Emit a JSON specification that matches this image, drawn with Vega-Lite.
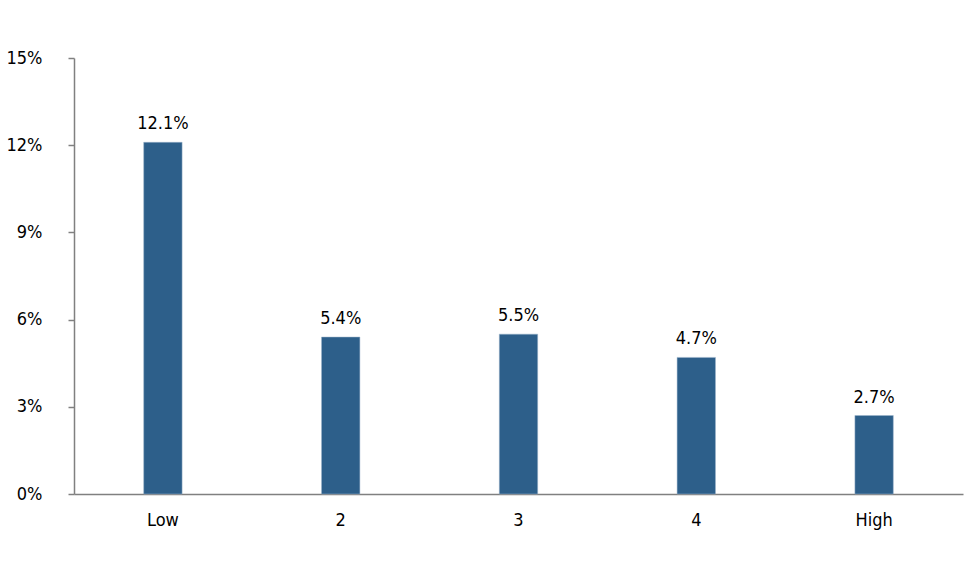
{
  "$schema": "https://vega.github.io/schema/vega-lite/v6.json",
  "autosize": "none",
  "padding": {"left": 74, "top": 58, "right": 10, "bottom": 87},
  "width": 889,
  "height": 436,
  "background": "white",
  "config": {
    "view": {"stroke": null},
    "font": "DejaVu Sans Condensed, Roboto, sans-serif"
  },
  "data": {
    "values": [
      {"group": "Low", "value": 0.121},
      {"group": "2", "value": 0.054},
      {"group": "3", "value": 0.055},
      {"group": "4", "value": 0.047},
      {"group": "High", "value": 0.027}
    ]
  },
  "encoding": {
    "x": {
      "field": "group", "type": "nominal", "sort": null,
      "scale": {"paddingInner": 0.784, "paddingOuter": 0.392},
      "axis": {"title": null, "labelAngle": 0, "ticks": false, "domainColor": "#808080", "domainWidth": 1.5,
               "labelFont": "DejaVu Sans Condensed, Roboto, sans-serif", "labelFontSize": 18, "labelColor": "#000", "labelPadding": 17}
    },
    "y": {
      "field": "value", "type": "quantitative",
      "scale": {"domain": [0, 0.15]},
      "axis": {"title": null, "values": [0, 0.03, 0.06, 0.09, 0.12, 0.15], "format": ".0%", "grid": false,
               "domainColor": "#808080", "domainWidth": 1.5, "tickColor": "#808080", "tickSize": 6, "tickWidth": 1.5,
               "labelFont": "DejaVu Sans Condensed, Roboto, sans-serif", "labelFontSize": 18, "labelColor": "#000", "labelPadding": 26}
    }
  },
  "layer": [
    {"mark": {"type": "bar", "color": "#2D5F8A", "stroke": "#9fb6cc", "strokeWidth": 0.5}},
    {"mark": {"type": "text", "baseline": "bottom", "dy": -9, "fontSize": 18, "font": "DejaVu Sans Condensed, Roboto, sans-serif", "color": "#000"},
     "encoding": {"text": {"field": "value", "type": "quantitative", "format": ".1%"}}}
  ]
}
